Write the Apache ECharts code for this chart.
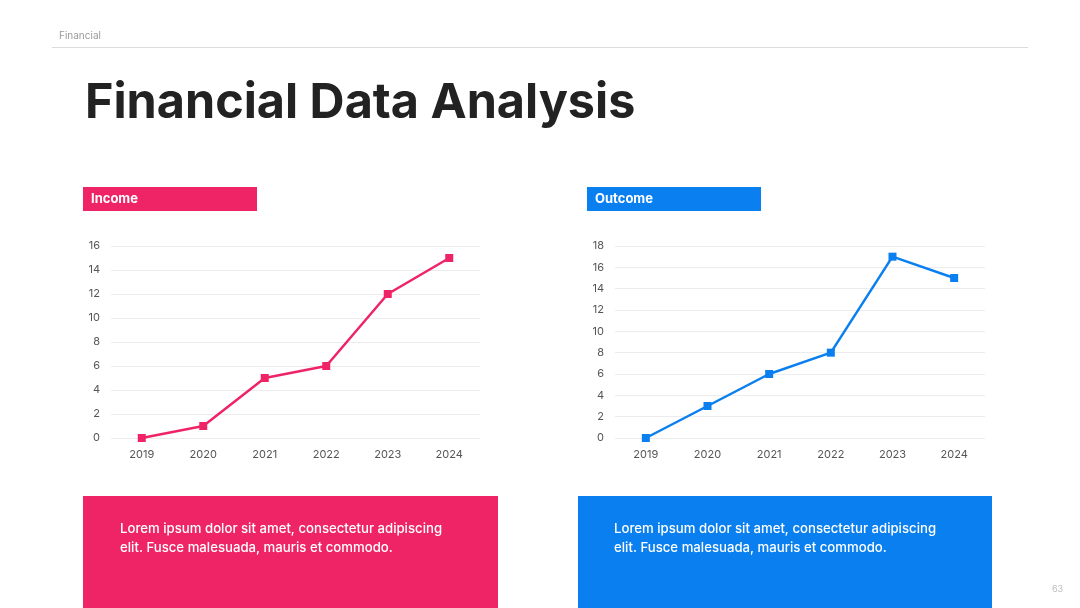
<!DOCTYPE html>
<html><head><meta charset="utf-8">
<script src="https://cdn.jsdelivr.net/npm/echarts@6/dist/echarts.min.js"></script>
<style>html,body{margin:0;padding:0;background:#fff}#c{width:1080px;height:608px}</style>
</head><body><div id="c"></div>
<script>
const years = ['2019','2020','2021','2022','2023','2024'];
const incomeValues = [0, 1, 5, 6, 12, 15];
const outcomeValues = [0, 3, 6, 8, 17, 15];
const incomeTicks = {min: 0, max: 16, interval: 2};
const outcomeTicks = {min: 0, max: 18, interval: 2};
const PINK = '#EF2467', BLUE = '#0A7FF0';
const FONT = 'Inter, "Open Sans", sans-serif';
const bodyText = 'Lorem ipsum dolor sit amet, consectetur adipiscing\nelit. Fusce malesuada, mauris et commodo.';

const chart = echarts.init(document.getElementById('c'), null, {renderer: 'canvas'});
function xAxis(idx){
  return {type:'category', gridIndex: idx, data: years, boundaryGap: true,
    axisLine:{show:false}, axisTick:{show:false},
    axisLabel:{color:'#555', fontSize:11, fontFamily:FONT, margin:11}};
}
function yAxis(idx, t){
  return {type:'value', gridIndex: idx, min:t.min, max:t.max, interval:t.interval,
    axisLine:{show:false}, axisTick:{show:false},
    splitLine:{lineStyle:{color:'#ececec', width:1}},
    axisLabel:{color:'#555', fontSize:11, fontFamily:FONT, margin:11}};
}
function series(idx, data, color){
  return {type:'line', xAxisIndex: idx, yAxisIndex: idx, data: data,
    symbol:'rect', symbolSize:8, lineStyle:{color:color, width:2.5},
    itemStyle:{color:color}, animation:false};
}
chart.setOption({
  animation:false,
  textStyle:{fontFamily:FONT},
  grid:[
    {left:111, top:246, width:369, height:192},
    {left:615, top:246, width:370, height:192}
  ],
  xAxis:[xAxis(0), xAxis(1)],
  yAxis:[yAxis(0, incomeTicks), yAxis(1, outcomeTicks)],
  series:[series(0, incomeValues, PINK), series(1, outcomeValues, BLUE)],
  graphic:[
    {type:'text', left:59, top:31, style:{text:'Financial', fill:'#9a9a9a', font:'10px '+FONT}},
    {type:'rect', shape:{x:52, y:47, width:976, height:1}, style:{fill:'#dcdcdc'}},
    {type:'text', left:85, top:79, style:{text:'Financial Data Analysis', fill:'#222', font:'bold 48.5px '+FONT}},
    {type:'rect', shape:{x:83, y:187, width:174, height:24}, style:{fill:PINK}},
    {type:'text', left:91, top:193, style:{text:'Income', fill:'#fff', font:'bold 13px '+FONT}},
    {type:'rect', shape:{x:587, y:187, width:174, height:24}, style:{fill:BLUE}},
    {type:'text', left:595, top:193, style:{text:'Outcome', fill:'#fff', font:'bold 13px '+FONT}},
    {type:'rect', shape:{x:83, y:496, width:415, height:112}, style:{fill:PINK}},
    {type:'text', left:120, top:520, style:{text:bodyText, fill:'#fff', font:'500 13.2px '+FONT, lineHeight:19}},
    {type:'rect', shape:{x:578, y:496, width:414, height:112}, style:{fill:BLUE}},
    {type:'text', left:614, top:520, style:{text:bodyText, fill:'#fff', font:'500 13.2px '+FONT, lineHeight:19}},
    {type:'text', left:1052, top:585, style:{text:'63', fill:'#bbb', font:'9px '+FONT}}
  ]
});
</script></body></html>
